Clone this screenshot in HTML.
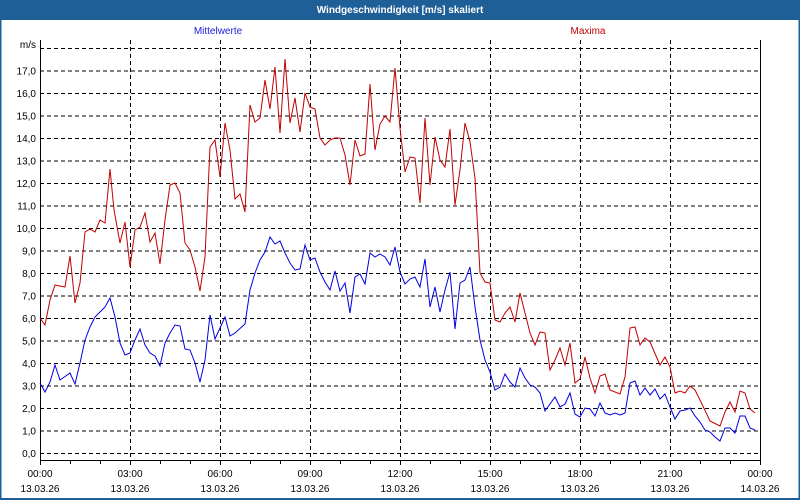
<!DOCTYPE html>
<html><head><meta charset="utf-8"><style>
html,body{margin:0;padding:0;background:#fff}
svg{display:block}
text{font-family:"Liberation Sans",sans-serif;font-size:10px;fill:#000}
</style></head><body>
<svg width="800" height="500" xmlns="http://www.w3.org/2000/svg">
<rect x="0" y="0" width="800" height="500" fill="#fff"/>
<rect x="0" y="0" width="800" height="20" fill="#1e5f98"/>
<rect x="0.5" y="0.5" width="799" height="499" fill="none" stroke="#1e5f98" stroke-width="1"/>
<line x1="0.5" y1="0" x2="0.5" y2="500" stroke="#1e5f98" stroke-width="2"/>
<line x1="799.5" y1="0" x2="799.5" y2="500" stroke="#1e5f98" stroke-width="2"/>
<line x1="0" y1="499" x2="800" y2="499" stroke="#1e5f98" stroke-width="2"/>
<text x="400" y="13" text-anchor="middle" style="fill:#fff;font-weight:bold;font-size:10px">Windgeschwindigkeit [m/s] skaliert</text>
<text x="218" y="34" text-anchor="middle" style="fill:#2020e0">Mittelwerte</text>
<text x="588" y="34" text-anchor="middle" style="fill:#c00000">Maxima</text>
<text x="36" y="48" text-anchor="end">m/s</text>
<g stroke="#000" stroke-width="1" stroke-dasharray="4,3" fill="none">
<line x1="40" y1="453.5" x2="760" y2="453.5"/><line x1="40" y1="431" x2="760" y2="431"/>
<line x1="40" y1="408.5" x2="760" y2="408.5"/><line x1="40" y1="386" x2="760" y2="386"/>
<line x1="40" y1="363.5" x2="760" y2="363.5"/><line x1="40" y1="341" x2="760" y2="341"/>
<line x1="40" y1="318.5" x2="760" y2="318.5"/><line x1="40" y1="296" x2="760" y2="296"/>
<line x1="40" y1="273.5" x2="760" y2="273.5"/><line x1="40" y1="251" x2="760" y2="251"/>
<line x1="40" y1="228.5" x2="760" y2="228.5"/><line x1="40" y1="206" x2="760" y2="206"/>
<line x1="40" y1="183.5" x2="760" y2="183.5"/><line x1="40" y1="161" x2="760" y2="161"/>
<line x1="40" y1="138.5" x2="760" y2="138.5"/><line x1="40" y1="116" x2="760" y2="116"/>
<line x1="40" y1="93.5" x2="760" y2="93.5"/><line x1="40" y1="71" x2="760" y2="71"/>
<line x1="40" y1="48.5" x2="760" y2="48.5"/>
<line x1="130.5" y1="40" x2="130.5" y2="460"/><line x1="220.5" y1="40" x2="220.5" y2="460"/>
<line x1="310.5" y1="40" x2="310.5" y2="460"/><line x1="400.5" y1="40" x2="400.5" y2="460"/>
<line x1="490.5" y1="40" x2="490.5" y2="460"/><line x1="580.5" y1="40" x2="580.5" y2="460"/>
<line x1="670.5" y1="40" x2="670.5" y2="460"/>
</g>
<polyline fill="none" stroke="#000" stroke-width="1" points="40.5,40 40.5,460.5 760.5,460.5 760.5,40"/>
<g stroke="#000" stroke-width="1">
<line x1="40.5" y1="460" x2="40.5" y2="465"/><line x1="70.5" y1="460" x2="70.5" y2="464"/><line x1="100.5" y1="460" x2="100.5" y2="464"/>
<line x1="130.5" y1="460" x2="130.5" y2="465"/><line x1="160.5" y1="460" x2="160.5" y2="464"/><line x1="190.5" y1="460" x2="190.5" y2="464"/>
<line x1="220.5" y1="460" x2="220.5" y2="465"/><line x1="250.5" y1="460" x2="250.5" y2="464"/><line x1="280.5" y1="460" x2="280.5" y2="464"/>
<line x1="310.5" y1="460" x2="310.5" y2="465"/><line x1="340.5" y1="460" x2="340.5" y2="464"/><line x1="370.5" y1="460" x2="370.5" y2="464"/>
<line x1="400.5" y1="460" x2="400.5" y2="465"/><line x1="430.5" y1="460" x2="430.5" y2="464"/><line x1="460.5" y1="460" x2="460.5" y2="464"/>
<line x1="490.5" y1="460" x2="490.5" y2="465"/><line x1="520.5" y1="460" x2="520.5" y2="464"/><line x1="550.5" y1="460" x2="550.5" y2="464"/>
<line x1="580.5" y1="460" x2="580.5" y2="465"/><line x1="610.5" y1="460" x2="610.5" y2="464"/><line x1="640.5" y1="460" x2="640.5" y2="464"/>
<line x1="670.5" y1="460" x2="670.5" y2="465"/><line x1="700.5" y1="460" x2="700.5" y2="464"/><line x1="730.5" y1="460" x2="730.5" y2="464"/>
<line x1="760.5" y1="460" x2="760.5" y2="465"/>
</g>
<g text-anchor="end">
<text x="36" y="457">0,0</text><text x="36" y="434.5">1,0</text><text x="36" y="412">2,0</text>
<text x="36" y="389.5">3,0</text><text x="36" y="367">4,0</text><text x="36" y="344.5">5,0</text>
<text x="36" y="322">6,0</text><text x="36" y="299.5">7,0</text><text x="36" y="277">8,0</text>
<text x="36" y="254.5">9,0</text><text x="36" y="232">10,0</text><text x="36" y="209.5">11,0</text>
<text x="36" y="187">12,0</text><text x="36" y="164.5">13,0</text><text x="36" y="142">14,0</text>
<text x="36" y="119.5">15,0</text><text x="36" y="97">16,0</text><text x="36" y="74.5">17,0</text>
</g>
<g text-anchor="middle">
<text x="40" y="477">00:00</text><text x="40" y="492">13.03.26</text>
<text x="130" y="477">03:00</text><text x="130" y="492">13.03.26</text>
<text x="220" y="477">06:00</text><text x="220" y="492">13.03.26</text>
<text x="310" y="477">09:00</text><text x="310" y="492">13.03.26</text>
<text x="400" y="477">12:00</text><text x="400" y="492">13.03.26</text>
<text x="490" y="477">15:00</text><text x="490" y="492">13.03.26</text>
<text x="580" y="477">18:00</text><text x="580" y="492">13.03.26</text>
<text x="670" y="477">21:00</text><text x="670" y="492">13.03.26</text>
<text x="760" y="477">00:00</text><text x="760" y="492">14.03.26</text>
</g>
<polyline fill="none" stroke="#c00000" stroke-width="1" points="40,318 45,325 50,300 55,285 65,287 70,256 75,303 80,283 85,232 90,229 95,232 100,220 105,223 110,169 114,210 120,243 125,222 130,267 135,230 140,227 145,213 150,242 155,233 160,264 165,220 170,185 175,183 180,193 185,243 190,250 195,267 200,291 205,257 210,147 215,140 220,177 225,123 230,150 235,199 240,194 245,212 250,105 255,122 260,118 265,80 270,109 275,67 280,133 285,59 290,123 295,98 300,132 305,93 310,107 315,109 320,138 325,145 330,140 335,138 340,138 345,155 350,185 355,140 360,156 365,154 370,84 375,150 380,124 385,116 390,122 395,68 400,128 405,172 410,157 415,158 420,203 425,118 430,185 435,137 440,160 445,167 450,129 455,205 460,170 465,123 470,142 475,178 480,273 485,282 490,283 495,320 500,322 505,313 510,307 515,322 520,293 525,313 530,333 535,345 540,332 545,333 550,370 555,360 560,348 565,365 570,343 575,383 580,379 585,357 590,378 595,393 600,376 605,374 610,390 620,394 625,377 630,328 635,327 640,345 645,338 650,342 660,365 665,357 670,367 675,393 680,391 685,393 690,386 695,390 700,400 710,421 720,426 725,412 730,402 735,412 740,391 745,393 750,409 755,413"/>
<polyline fill="none" stroke="#0000e0" stroke-width="1" points="40,383 45,392 50,382 55,365 60,380 70,373 75,384 80,363 85,340 90,327 95,317 105,307 110,298 115,317 120,343 125,355 130,353 135,340 140,329 145,345 150,353 155,356 160,366 165,343 170,333 175,325 180,326 185,349 190,350 195,363 200,382 205,360 210,315 215,339 225,317 230,336 235,333 245,324 250,290 255,273 260,260 265,252 270,237 275,244 280,241 285,253 290,263 295,270 300,269 305,245 310,260 315,258 320,272 325,282 330,290 335,271 340,291 345,283 350,313 355,277 360,274 365,284 370,253 375,257 380,254 385,257 390,265 395,247 400,272 405,284 410,279 415,277 420,287 425,259 430,307 435,287 440,312 445,290 450,272 455,329 460,283 465,280 470,267 475,307 480,340 485,360 490,372 495,390 500,387 505,374 510,382 515,387 520,368 525,378 530,385 535,387 540,393 545,411 550,404 555,397 560,407 565,404 570,393 575,414 580,417 585,408 590,409 595,416 600,403 605,413 610,415 615,413 620,415 625,413 630,383 635,381 640,395 645,388 650,395 655,389 660,399 665,394 670,407 675,419 680,411 685,410 690,408 695,416 700,422 705,430 710,432 715,437 720,441 725,428 730,428 735,433 740,416 745,416 750,428 755,430"/>
</svg>
</body></html>
